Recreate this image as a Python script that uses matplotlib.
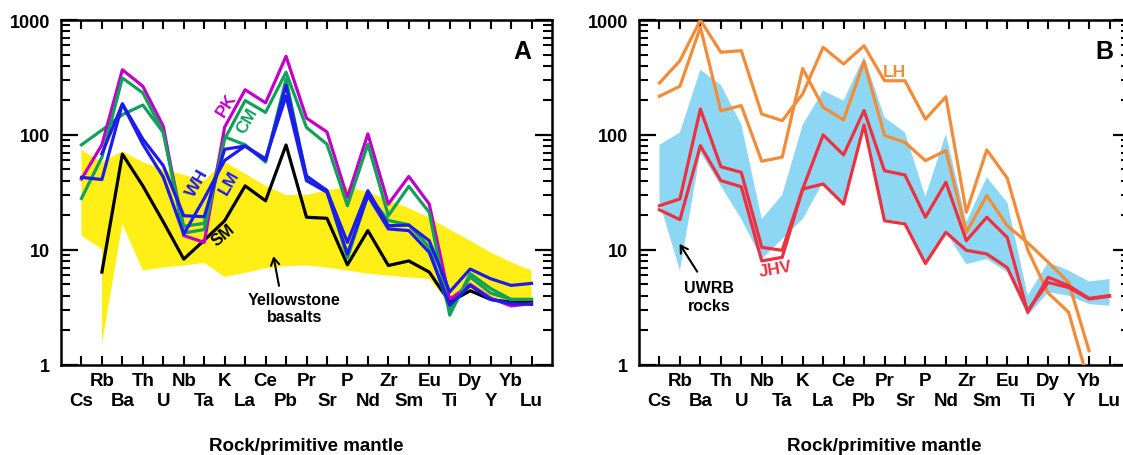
import numpy as np
import matplotlib
matplotlib.use('Agg')
import matplotlib.pyplot as plt
from matplotlib.ticker import LogLocator, NullFormatter

plt.rcParams['font.family'] = ['Liberation Sans', 'DejaVu Sans']
plt.rcParams['font.weight'] = 'bold'

nan = np.nan
elements = ['Cs', 'Rb', 'Ba', 'Th', 'U', 'Nb', 'Ta', 'K', 'La', 'Ce', 'Pb', 'Pr',
            'Sr', 'P', 'Nd', 'Zr', 'Sm', 'Eu', 'Ti', 'Dy', 'Y', 'Yb', 'Lu']

# ---- panel A : samples vs Yellowstone basalts (rock / primitive mantle)
pk = [41.3, 82, 369, 265, 119, 13.3, 11.6, 117, 247, 190, 483, 140, 106, 28.5,
      102, 25, 43.5, 25, 3.7, 5.0, 3.8, 3.25, 3.4]
cm = [28, 64, 313, 232, 105, 14, 15, 92, 199, 157, 351, 116, 83, 24.2,
      83, 19.8, 35.7, 21.2, 2.7, 6.2, 4.6, 3.7, 3.7]
cm2 = [82, 110, 150, 182, 105, 16, 17, 96, 82, 58, 307, 42, 33, 8.5,
       30, 18, 16.5, 10.5, 3.0, 5.8, 4.2, 3.7, 3.7]
wh = [42.7, 40.9, 186, 92, 54, 19.8, 19.4, 75, 80, 60, 270, 44, 32.7, 11.6,
      32.7, 16.2, 16.4, 12, 4.3, 6.8, 5.6, 4.9, 5.1]
lm = [nan, 68.6, 186, 83, 43, 13.7, 28, 60, 80, 62, 218, 40, 31.7, 9.2,
      29.6, 15.2, 14.7, 9.5, 3.3, 4.9, 3.7, 3.4, 3.35]
sm = [nan, 6.4, 68, 36, 17.5, 8.3, 12.1, 17.9, 36, 26.7, 81.7, 19.2, 18.8, 7.4,
      14.7, 7.3, 8.0, 6.4, 3.5, 4.4, 3.7, 3.5, 3.5]

ys_upper = [74, 58, 72, 58, 50, 45, 40, 58, 46, 36, 30, 30, 33, 35, 32, 27, 23,
            19, 15, 12, 9.5, 7.8, 6.6]
ys_lower_el = ['Cs', 'Rb', 'Rb', 'Ba', 'Th', 'U', 'Nb', 'Ta', 'K', 'La', 'Ce', 'Pb',
               'Pr', 'Sr', 'P', 'Nd', 'Zr', 'Sm', 'Eu', 'Ti', 'Dy', 'Y', 'Yb', 'Lu']
ys_lower = [13.3, 10.1, 1.5, 16.8, 6.6, 7.0, 7.3, 7.7, 5.8, 6.3, 6.9, 7.2, 7.3,
            7.0, 6.6, 6.2, 5.95, 5.75, 5.57, 3.5, 4.3, 3.9, 3.6, 3.5]

# ---- panel B : LH, JHV vs UWRB rocks
lh1 = [283, 442, 1000, 524, 541, 152, 133, 227, 578, 414, 597, 296, 296, 137,
       215, 21.2, 74, 42, 10.0, 4.2, 2.86, 0.68, nan]
lh2 = [217, 265, 864, 162, 180, 59, 64, 378, 174, 135, 435, 99, 86, 59.7,
       73, 14.2, 29.6, 16.2, 11.5, 7.8, 5.2, 1.32, nan]
jhv1 = [24.2, 27.7, 168, 52.9, 47.2, 10.5, 9.9, 33.8, 100, 67, 163, 48.8, 44.8,
        19.2, 38.7, 12, 19.2, 12.8, 2.86, 5.77, 4.87, 3.78, 3.99]
jhv2 = [22.3, 18.3, 80.5, 40, 35.4, 8.0, 8.6, 33.8, 37.4, 25, 122, 17.9, 16.8,
        7.6, 14.2, 9.9, 9.2, 7.0, 2.95, 5.2, 4.7, 3.73, 3.94]
uwrb_upper = [82, 105, 369, 272, 124, 18.5, 30, 122, 243, 199, 480, 142, 105, 29,
              102, 17.5, 42.8, 25.9, 4.0, 7.8, 6.6, 5.3, 5.57]
uwrb_lower = [25.9, 6.6, 70.6, 36, 18.5, 8.3, 12.4, 18.5, 38.7, 24.2, 120, 18.5,
              17.4, 7.3, 14.2, 7.5, 8.3, 6.4, 2.67, 4.27, 3.99, 3.37, 3.26]

x = np.arange(len(elements))
idx = {e: i for i, e in enumerate(elements)}

YELLOW = '#FFEF16'
LBLUE = '#8ED7F4'
MAG = '#C000C8'
GREEN = '#12A05C'
BLUE = '#1C1CEB'
ORANGE = '#F28C38'
RED = '#EC3140'
LW = 2.3


def style(ax):
    ax.set_yscale('log')
    ax.set_ylim(1, 1000)
    ax.set_xlim(-1, 23)
    odd = list(range(1, 23, 2))
    even = list(range(0, 23, 2))
    ax.set_xticks(odd, [elements[i] for i in odd])
    ax.set_xticks(even, [elements[i] for i in even], minor=True)
    ax.tick_params(axis='x', which='both', direction='in', length=6.5, width=1.5,
                   top=True, labelsize=13.5)
    ax.tick_params(axis='x', which='major', pad=5)
    ax.tick_params(axis='x', which='minor', pad=20)
    ax.set_yticks([1, 10, 100, 1000], ['1', '10', '100', '1000'])
    ax.yaxis.set_minor_locator(LogLocator(base=10, subs=np.arange(2, 10), numticks=10))
    ax.yaxis.set_minor_formatter(NullFormatter())
    ax.tick_params(axis='y', which='major', direction='in', length=12, width=1.6,
                   right=True, labelsize=13, pad=8)
    ax.tick_params(axis='y', which='minor', direction='in', length=6.5, width=1.5,
                   right=True)
    for s in ax.spines.values():
        s.set_linewidth(1.8)
    ax.text(0.5, -0.235, 'Rock/primitive mantle', transform=ax.transAxes,
            ha='center', va='center', fontsize=13.5, fontweight='bold')


fig = plt.figure(figsize=(11.23, 4.56), dpi=100)
W, H = 1123, 456
axA = fig.add_axes([61 / W, (H - 365.7) / H, 491 / W, 344.7 / H])
axB = fig.add_axes([639 / W, (H - 365.7) / H, 491 / W, 344.7 / H])

# ---------- A
lx = [idx[e] for e in ys_lower_el]
axA.fill(list(x) + lx[::-1], ys_upper + ys_lower[::-1], color=YELLOW, lw=0, zorder=1)
axA.plot(x, sm, color='k', lw=LW, zorder=3)
axA.plot(x, cm2, color=GREEN, lw=LW, zorder=3)
axA.plot(x, lm, color=BLUE, lw=LW, zorder=4)
axA.plot(x, wh, color=BLUE, lw=LW, zorder=4)
axA.plot(x, pk, color=MAG, lw=LW, zorder=3)
axA.plot(x, cm, color=GREEN, lw=LW, zorder=3)
style(axA)

axA.text(7.11, 186, 'PK', color=MAG, rotation=58, ha='center', va='center', fontsize=12.5)
axA.text(8.09, 135, 'CM', color=GREEN, rotation=60, ha='center', va='center', fontsize=12.5)
axA.text(5.65, 38.7, 'WH', color=BLUE, rotation=60, ha='center', va='center', fontsize=12.5)
axA.text(7.22, 38.7, 'LM', color=BLUE, rotation=60, ha='center', va='center', fontsize=12.5)
axA.text(6.93, 13.6, 'SM', color='k', rotation=40, ha='center', va='center', fontsize=12)
axA.text(10.4, 3.13, 'Yellowstone\nbasalts', ha='center', va='center', fontsize=11.5,
         linespacing=1.2)
axA.annotate('', xy=(9.36, 9.3), xytext=(9.68, 4.6),
             arrowprops=dict(arrowstyle='->,head_length=0.5,head_width=0.3',
                             color='k', lw=1.5))
axA.text(0.940, 0.911, 'A', transform=axA.transAxes, ha='center', va='center',
         fontsize=18, fontweight='bold')

# ---------- B
axB.fill(list(x) + list(x[::-1]), uwrb_upper + uwrb_lower[::-1], color=LBLUE, lw=0,
         zorder=1)
axB.plot(x, lh1, color=ORANGE, lw=LW, zorder=3)
axB.plot(x, lh2, color=ORANGE, lw=LW, zorder=3)
axB.plot(x, jhv1, color=RED, lw=LW, zorder=4)
axB.plot(x, jhv2, color=RED, lw=LW, zorder=4)
style(axB)

axB.text(11.49, 355, 'LH', color=ORANGE, ha='center', va='center', fontsize=12.5)
axB.text(5.67, 6.8, 'JHV', color=RED, rotation=10, ha='center', va='center', fontsize=12.5)
axB.text(2.41, 3.92, 'UWRB\nrocks', ha='center', va='center', fontsize=11.5,
         linespacing=1.2)
axB.annotate('', xy=(0.91, 11.8), xytext=(1.92, 6.15),
             arrowprops=dict(arrowstyle='->,head_length=0.5,head_width=0.3',
                             color='k', lw=1.5))
axB.text(0.947, 0.911, 'B', transform=axB.transAxes, ha='center', va='center',
         fontsize=18, fontweight='bold')

fig.savefig('out.png', dpi=100)
